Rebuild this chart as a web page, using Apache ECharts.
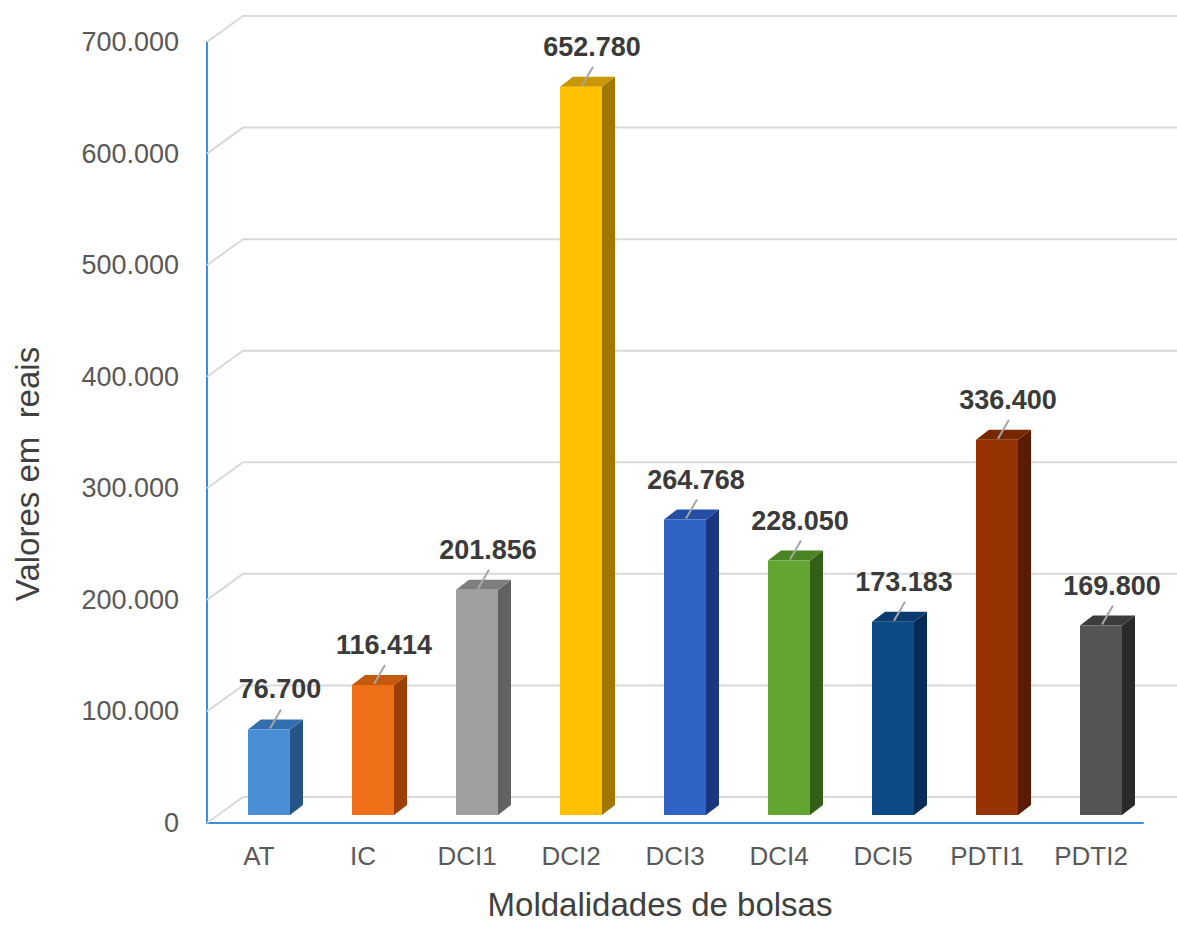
<!DOCTYPE html>
<html>
<head>
<meta charset="utf-8">
<title>Moldalidades de bolsas</title>
<script src="https://cdn.jsdelivr.net/npm/echarts@6/dist/echarts.min.js"></script>
<style>
  html, body { margin: 0; padding: 0; background: #ffffff; }
  #chart { width: 1177px; height: 927px; }
</style>
</head>
<body>
<div id="chart"></div>
<script>
// Categories and values (R$)
const categories = ['AT', 'IC', 'DCI1', 'DCI2', 'DCI3', 'DCI4', 'DCI5', 'PDTI1', 'PDTI2'];
const values = [76700, 116414, 201856, 652780, 264768, 228050, 173183, 336400, 169800];
const tickValues = [0, 100000, 200000, 300000, 400000, 500000, 600000, 700000];

// Face colours for each bar: front, right side, top
const frontColors = ['#4a8fd6', '#ef7019', '#a0a0a0', '#ffc000', '#2f63c5', '#62a631', '#0d4a88', '#963300', '#545454'];
const sideColors  = ['#265585', '#9c4008', '#626262', '#a07800', '#1a3780', '#345f18', '#052d57', '#5a1b00', '#2a2a2a'];
const topColors   = ['#336fae', '#c55a0e', '#7e7e7e', '#c99700', '#234ea4', '#4a8423', '#0a3b6e', '#782800', '#3c3c3c'];

// pt-BR style thousands separator
function fmt(v) {
  return String(Math.round(v)).replace(/\B(?=(\d{3})+(?!\d))/g, '.');
}

// 3D look: wall depth and bar depth offsets
const WALL_DX = 36, WALL_DY = -26;
const BAR_SHIFT_X = 10, BAR_SHIFT_Y = -8;
const BAR_W = 42, BAR_DX = 13, BAR_DY = -10;

const chart = echarts.init(document.getElementById('chart'), null, { renderer: 'svg' });

const option = {
  backgroundColor: '#ffffff',
  animation: false,
  grid: { left: 207, right: 34, top: 42, bottom: 104, containLabel: false },
  xAxis: {
    type: 'category',
    data: categories,
    axisLine: { show: true, lineStyle: { color: '#3d8fdc', width: 2 } },
    axisTick: { show: false },
    axisLabel: { fontSize: 26, color: '#595959', margin: 20, fontFamily: 'Liberation Sans, Arial, sans-serif' },
    splitLine: { show: false }
  },
  yAxis: {
    type: 'value',
    min: 0,
    max: 700000,
    interval: 100000,
    axisLine: { show: true, lineStyle: { color: '#3d8fdc', width: 2 } },
    axisTick: { show: false },
    splitLine: { show: false },
    axisLabel: {
      fontSize: 27, color: '#595959', margin: 28,
      fontFamily: 'Liberation Sans, Arial, sans-serif',
      formatter: v => fmt(v)
    }
  },
  graphic: [
    {
      type: 'text', x: 27, y: 474, rotation: Math.PI / 2,
      style: {
        text: 'Valores em  reais', fill: '#404040',
        font: '33px "Liberation Sans", Arial, sans-serif',
        align: 'center', verticalAlign: 'middle'
      }
    },
    {
      type: 'text', x: 660, y: 904,
      style: {
        text: 'Moldalidades de bolsas', fill: '#404040',
        font: '33px "Liberation Sans", Arial, sans-serif',
        align: 'center', verticalAlign: 'middle'
      }
    }
  ],
  series: [
    {
      // back-wall gridlines with the side-wall diagonal
      type: 'custom',
      z: 1,
      silent: true,
      data: tickValues.map(v => [0, v]),
      renderItem: function (params, api) {
        const cs = params.coordSys;
        const y = api.coord([0, api.value(1)])[1];
        const left = cs.x;
        const right = cs.x + cs.width;
        return {
          type: 'polyline',
          shape: { points: [[left, y], [left + WALL_DX, y + WALL_DY], [right + WALL_DX, y + WALL_DY]] },
          style: { stroke: '#d9d9d9', lineWidth: 2, fill: null }
        };
      }
    },
    {
      // 3D bars with value labels
      type: 'custom',
      z: 3,
      data: values.map((v, i) => [i, v]),
      renderItem: function (params, api) {
        const i = api.value(0);
        const v = api.value(1);
        const pTop = api.coord([i, v]);
        const pBase = api.coord([i, 0]);
        const cx = pTop[0] + BAR_SHIFT_X;
        const x0 = cx - BAR_W / 2;
        const x1 = cx + BAR_W / 2;
        const top = pTop[1] + BAR_SHIFT_Y;
        const bottom = pBase[1] + BAR_SHIFT_Y;
        return {
          type: 'group',
          children: [
            {
              type: 'polygon',
              shape: { points: [[x1, top], [x1 + BAR_DX, top + BAR_DY], [x1 + BAR_DX, bottom + BAR_DY], [x1, bottom]] },
              style: { fill: sideColors[i] }
            },
            {
              type: 'polygon',
              shape: { points: [[x0, top], [x0 + BAR_DX, top + BAR_DY], [x1 + BAR_DX, top + BAR_DY], [x1, top]] },
              style: { fill: topColors[i] }
            },
            {
              type: 'rect',
              shape: { x: x0, y: top, width: BAR_W, height: bottom - top },
              style: { fill: frontColors[i] }
            },
            {
              type: 'line',
              shape: { x1: cx + 1, y1: top - 1, x2: cx + 12, y2: top - 20 },
              style: { stroke: '#a6a6a6', lineWidth: 2 }
            },
            {
              type: 'text',
              x: cx + 11, y: top - 40,
              style: {
                text: fmt(v), fill: '#3a3a3a',
                font: 'bold 27px "Liberation Sans", Arial, sans-serif',
                align: 'center', verticalAlign: 'middle'
              }
            }
          ]
        };
      }
    }
  ]
};

chart.setOption(option);
</script>
</body>
</html>
